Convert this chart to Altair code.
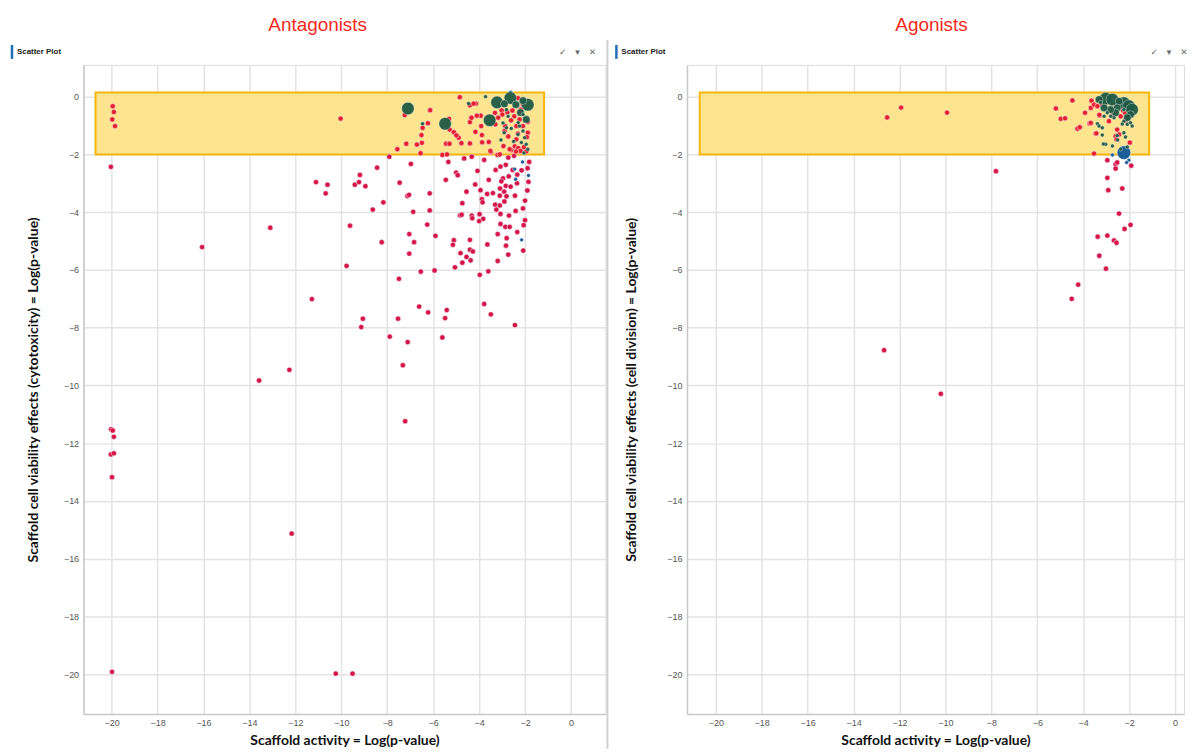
import altair as alt
import pandas as pd

# ---------------- data ----------------
TICKS = [-20, -18, -16, -14, -12, -10, -8, -6, -4, -2, 0]
Y_DOMAIN = [-21.38, 1.1]
X_DOMAIN_ANT = [-21.22, 1.5]
X_DOMAIN_AGO = [-21.255, 0.39]

# highlighted window (x1, x2, y1, y2)
ant_box = [-20.7, -1.17, 0.14, -2.0]
ago_box = [-20.7, -1.13, 0.14, -2.0]

# Antagonists
ant_red_x = [-20.03, -11.1, -10.6, -10.68, -9.41, -9.19, -9.23, -8.95, -8.63, -9.62, -13.09, -16.06, -9.77,
             -11.28, -9.06, -9.13, -12.26, -8.44, -13.58, -7.32, -7.22, -20.02, -19.95, -19.9, -20.03, -19.9,
             -19.98, -12.16, -19.98, -10.24, -9.51,
             -7.91, -6.97, -6.55, -7.46, -8.17, -8.24, -7.53, -7.89, -7.11, -7.49, -7.12, -7.05, -6.87, -6.15,
             -6.15, -6.26, -7.04, -6.83, -7.04, -5.9, -6.54, -5.94, -6.61, -6.22, -5.41, -5.48, -5.6, -5.6, -5.4,
             -5.34, -5.45, -5.0, -4.93, -4.73, -4.55, -4.65, -4.32, -4.07, -3.78, -3.48, -3.2, -3.1, -2.73, -2.48,
             -1.82, -1.89, -2.15, -2.54, -3.07, -3.28, -2.84, -2.34, -2.71, -2.96, -3.03, -2.84, -2.63, -2.35,
             -3.58, -4.17, -3.94, -3.65, -3.4, -3.09, -3.1, -2.91, -2.81, -2.44, -3.88, -3.85, -3.3, -3.1, -2.9,
             -3.25, -3.07, -2.41, -2.09, -2.7, -4.83, -4.76, -4.32, -4.3, -3.98, -4.0, -3.82, -3.07, -2.86, -2.67,
             -2.0, -2.06, -2.34, -3.19, -2.8, -2.83, -2.73, -2.08, -3.19, -3.64, -4.4, -5.1, -5.14, -4.81, -4.4,
             -4.27, -4.55, -4.73, -4.37, -5.05, -3.97, -3.6, -3.78, -3.49, -2.44, -1.85, -1.9, -2.0,
             -19.95, -19.9, -19.97, -19.85, -10.03,
             -4.84, -4.14, -4.4, -6.13, -7.24, -6.23, -5.31, -4.36, -3.93, -4.4, -6.46, -6.51, -5.28, -5.1, -4.16,
             -3.91, -4.89, -4.99, -4.4, -4.77, -5.44, -5.29, -6.49, -6.71, -7.17, -7.56, -3.88, -3.87, -3.58,
             -3.51, -2.94, -3.29, -3.02, -2.99, -2.77, -2.55, -2.47, -2.61, -2.86, -2.89, -2.73, -2.38, -2.24,
             -2.09, -1.88, -2.31, -2.38, -2.45, -2.3, -2.2, -2.05, -2.4, -2.6, -1.95, -1.88, -1.92, -2.67, -2.18,
             -2.09, -2.31, -3.31, -3.17, -4.33, -4.1, -4.24]
ant_red_y = [-2.43, -2.96, -3.05, -3.35, -3.05, -2.71, -2.96, -3.1, -3.91, -4.47, -4.54, -5.21, -5.86,
             -7.01, -7.69, -7.98, -9.46, -2.46, -9.83, -9.3, -11.24, -11.52, -11.56, -11.78, -12.39, -12.35,
             -13.18, -15.13, -19.92, -19.98, -19.98,
             -2.08, -2.33, -1.96, -2.98, -3.66, -5.04, -7.69, -8.31, -8.5, -6.31, -3.44, -3.4, -3.99, -3.35,
             -3.94, -4.43, -4.76, -5.04, -5.44, -4.82, -6.06, -6.02, -7.27, -7.47, -7.39, -7.67, -8.34, -2.02, -2.0,
             -2.26, -2.88, -2.63, -2.72, -3.69, -3.29, -2.14, -2.08, -2.57, -2.19, -1.92, -2.02, -2.0, -2.11, -2.05,
             -2.26, -2.48, -2.55, -2.54, -2.42, -2.54, -2.36, -2.7, -2.76, -2.83, -2.93, -3.09, -3.12, -3.0,
             -2.88, -3.04, -3.24, -3.37, -3.34, -3.18, -3.43, -3.29, -3.45, -3.43, -3.55, -3.66, -3.74, -3.77, -3.63,
             -3.91, -4.06, -3.96, -3.87, -4.12, -4.11, -4.09, -4.12, -4.21, -4.07, -4.31, -4.23, -4.41, -4.51, -4.51,
             -4.28, -4.45, -4.69, -4.76, -4.9, -5.16, -5.47, -5.33, -5.69, -5.12, -4.96, -4.97, -5.13, -5.42, -5.3,
             -5.36, -5.55, -5.75, -5.67, -5.91, -6.17, -6.05, -7.18, -7.54, -7.91, -2.95, -3.25, -3.6,
             -0.33, -0.53, -0.79, -1.02, -0.76,
             -0.02, -0.24, -0.3, -0.47, -0.64, -0.92, -0.77, -0.76, -0.66, -0.88, -1.08, -1.33, -1.14, -1.23, -1.22,
             -1.02, -1.42, -1.34, -1.62, -1.61, -1.63, -1.63, -1.6, -1.66, -1.63, -1.82, -1.33, -1.58, -1.57,
             -1.88, -1.71, -0.96, -0.48, -0.62, -0.54, -0.48, -0.68, -0.82, -1.02, -1.19, -1.38, -1.02, -0.79,
             -1.02, -0.87, -1.28, -1.48, -1.72, -1.78, -1.88, -1.75, -1.9, -1.85, -1.9, -1.25, -1.4, -1.82, -0.45,
             -0.28, -0.05, -0.56, -0.73, -0.73, -0.66, -0.24]

ant_green_x = [-7.1, -5.48, -3.54, -3.22, -2.64, -1.88,
               -2.09, -2.4, -2.2, -1.95, -2.9,
               -6.46, -4.46, -3.72, -2.96, -2.91, -2.81, -2.74, -2.09, -2.24, -2.09, -2.31, -2.02, -2.16,
               -1.95, -1.88, -2.81, -2.05, -2.5, -2.6, -3.05, -2.3]
ant_green_y = [-0.41, -0.94, -0.82, -0.2, -0.05, -0.28,
               -0.14, -0.28, -0.55, -0.79, -0.25,
               -0.94, -0.24, 0.0, -0.91, -1.25, -0.45, -0.68, -0.62, -1.02, -1.19, -1.31, -1.42, -1.59,
               -1.65, -1.82, -1.08, -1.95, -1.55, -1.1, -1.5, -0.9]
ant_green_w = ["l"] * 6 + ["m"] * 5 + ["s"] * 21

ant_blue_x = [-2.11, -2.45, -1.85, -2.41, -2.15, -2.63]
ant_blue_y = [-2.26, -2.51, -2.73, -2.86, -4.96, 0.15]
ant_blue_w = ["s"] * 6

# Agonists
ago_red_x = [-12.54, -11.93, -9.93, -4.47, -5.19, -4.98, -4.79, -4.25, -4.15, -3.92, -3.67, -3.64, -3.53,
             -3.38, -3.17, -3.72, -3.28, -3.46, -2.88, -2.69, -2.4, -2.33, -2.26, -2.37, -2.08, -2.16, -2.52,
             -2.44, -2.59, -1.97, -2.55, -3.53, -3.67, -3.43, -3.3, -2.18, -1.99, -2.1,
             -2.95, -2.59, -2.52, -2.59, -1.91, -2.95, -2.91, -2.3, -2.44, -1.94, -2.2, -3.37, -2.95, -2.66,
             -2.55, -3.3, -3.01, -4.22, -4.5, -7.8, -12.67, -10.2]
ago_red_y = [-0.72, -0.38, -0.55, -0.13, -0.41, -0.77, -0.75, -1.11, -1.06, -0.56, -0.39, -0.14, -0.28,
             -0.33, -0.28, -0.93, -0.65, -1.28, -0.85, -0.62, -0.22, -0.37, -0.48, -0.68, -0.33, -0.83, -1.14,
             -1.31, -1.37, -1.59, -1.48, -1.97, -0.91, -1.27, -0.63, -0.56, -0.5, -0.75,
             -2.2, -2.34, -2.28, -2.49, -2.39, -2.81, -3.24, -3.18, -4.05, -4.44, -4.58, -4.85, -4.81, -4.98,
             -5.06, -5.51, -5.96, -6.51, -7.0, -2.58, -8.78, -10.29]

ago_green_x = [-3.02, -2.73, -2.23, -2.01, -1.87,
               -3.31, -2.44, -1.94, -2.08, -2.52, -2.59, -2.81, -3.09,
               -2.23, -2.95, -3.25, -2.66, -2.8, -3.09, -2.23, -2.08, -1.94, -1.87, -3.38, -3.31, -3.17,
               -2.3, -2.23, -2.16, -2.52, -3.17, -3.02, -2.73, -2.5, -2.37, -2.08, -3.12]
ago_green_y = [-0.07, -0.1, -0.22, -0.33, -0.45,
               -0.1, -0.16, -0.62, -0.73, -0.39, -0.56, -0.45, -0.39,
               -0.45, -0.56, -0.2, -0.73, -0.68, -0.68, -0.85, -0.96, -0.9, -1.02, -0.94, -1.02, -1.08,
               -0.95, -1.25, -1.4, -1.35, -1.33, -1.65, -1.71, -1.5, -1.82, -1.74, -1.64]
ago_green_w = ["l"] * 5 + ["m"] * 8 + ["s"] * 24

ago_blue_x = [-2.23, -2.73, -2.01, -2.11]
ago_blue_y = [-1.94, -2.02, -2.2, -2.28]
ago_blue_w = ["xl", "s", "s", "s"]

# ---------------- styling ----------------
H = 653
W_ANT = 525
W_AGO = 500
RED_IN = "#e5202f"
RED_OUT = "#d4154b"
GREEN = "#1e5a45"
BLUE = "#1d5f99"
SIZE_SCALE = alt.Scale(type="ordinal", domain=["s", "m", "l", "xl"], range=[16, 60, 160, 190])
LABEL_FONT = "Liberation Sans"
TITLE_FONT = "Lato"


def axis_x():
    return alt.Axis(values=TICKS, grid=True, gridColor="#e3e3e3", gridWidth=1.5, domainColor="#c8c8c8",
                    domainWidth=1.5, ticks=False, labelFont=LABEL_FONT, labelFontSize=9, labelColor="#555",
                    labelPadding=5, title="Scaffold activity  = Log(p-value)", titleFont=TITLE_FONT,
                    titleFontSize=14, titleFontWeight="bold", titleColor="#111", titleY=27,
                    titleBaseline="middle")


def axis_y(title, tx):
    return alt.Axis(values=TICKS, grid=True, gridColor="#e3e3e3", gridWidth=1.5, domainColor="#c8c8c8",
                    domainWidth=1.5, ticks=False, labelFont=LABEL_FONT, labelFontSize=9, labelColor="#555",
                    labelPadding=5, title=title, titleFont=TITLE_FONT, titleFontSize=14,
                    titleFontWeight="bold", titleColor="#111", titleX=tx, titleY=H / 2,
                    titleBaseline="middle", titleAlign="center")


def one():
    return pd.DataFrame({"k": [0]})


def panel(name, ytitle, ytx, width, xdom, box, rx, ry, gx, gy, gw, bx, by, bw, title_dx, title_off,
          bar_x, icon_x, separator):
    xs = alt.Scale(domain=xdom, nice=False, zero=False)
    ys = alt.Scale(domain=Y_DOMAIN, nice=False, zero=False)
    X = alt.X("x:Q", scale=xs, axis=axis_x())
    Y = alt.Y("y:Q", scale=ys, axis=axis_y(ytitle, ytx))

    box_df = pd.DataFrame({"x": [box[0]], "x2": [box[1]], "y": [box[2]], "y2": [box[3]]})
    rect = alt.Chart(box_df).mark_rect(fill="#fde58f", stroke="#f5b50c", strokeWidth=2).encode(
        x=X, x2="x2:Q", y=Y, y2="y2:Q")

    red = alt.Chart(pd.DataFrame({"x": rx, "y": ry})).mark_circle(
        size=28, opacity=1, stroke="white", strokeWidth=0.5).encode(
        x=X, y=Y,
        color=alt.condition("datum.y > -2.03", alt.value(RED_IN), alt.value(RED_OUT)))

    blue = alt.Chart(pd.DataFrame({"x": bx, "y": by, "w": bw})).mark_circle(
        opacity=1, color=BLUE, stroke="white", strokeWidth=0.5).encode(
        x=X, y=Y, size=alt.Size("w:N", scale=SIZE_SCALE, legend=None))

    green = alt.Chart(pd.DataFrame({"x": gx, "y": gy, "w": gw})).mark_circle(
        opacity=0.95, color=GREEN, stroke="white", strokeWidth=0.4).encode(
        x=X, y=Y, size=alt.Size("w:N", scale=SIZE_SCALE, legend=None))

    layers = [rect, red, blue, green]

    # panel header decoration
    layers.append(alt.Chart(one()).mark_rule(color="#1f6fb8", strokeWidth=2.5).encode(
        x=alt.value(bar_x), y=alt.value(-20), y2=alt.value(-6)))
    layers.append(alt.Chart(one()).mark_text(
        text="Scatter Plot", align="left", baseline="middle", font=LABEL_FONT, fontSize=8,
        fontWeight="bold", color="#222").encode(x=alt.value(bar_x + 5), y=alt.value(-13)))
    for i, glyph in enumerate(["✓", "▾", "✕"]):
        layers.append(alt.Chart(one()).mark_text(
            text=glyph, align="center", baseline="middle", font="DejaVu Sans", fontSize=9,
            color="#666").encode(x=alt.value(icon_x + 15 * i), y=alt.value(-13)))
    if separator:
        layers.append(alt.Chart(one()).mark_rule(color="#cfcfcf", strokeWidth=2).encode(
            x=alt.value(width + 2), y=alt.value(-25), y2=alt.value(H + 35)))

    return alt.layer(*layers).properties(
        width=width, height=H,
        title=alt.TitleParams(name, color="#f2291c", fontSize=19, font=LABEL_FONT, fontWeight="normal",
                              anchor="middle", dx=title_dx, offset=title_off))


left = panel("Antagonists", "Scaffold cell viability effects (cytotoxicity)  = Log(p-value)", -50,
             W_ANT, X_DOMAIN_ANT, ant_box, ant_red_x, ant_red_y, ant_green_x, ant_green_y, ant_green_w,
             ant_blue_x, ant_blue_y, ant_blue_w, -27, 4, -72, 482, True)
right = panel("Agonists", "Scaffold cell viability effects (cell division) = Log(p-value)", -56,
              W_AGO, X_DOMAIN_AGO, ago_box, ago_red_x, ago_red_y, ago_green_x, ago_green_y, ago_green_w,
              ago_blue_x, ago_blue_y, ago_blue_w, -4, 9, -71, 470, False)

chart = alt.hconcat(left, right, spacing=5).properties(
    padding={"left": 2, "top": 5, "right": 0, "bottom": 0}
).configure_view(stroke=None).configure(background="white")

chart.save("out.html", embed_options={"renderer": "svg", "actions": False})
